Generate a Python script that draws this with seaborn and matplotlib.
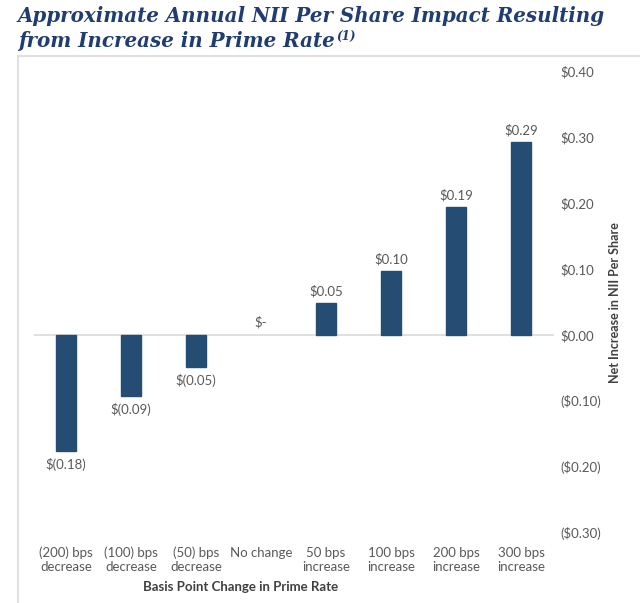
import matplotlib
matplotlib.use("Agg")
import matplotlib.pyplot as plt
import seaborn as sns
import pandas as pd
from matplotlib.patches import Rectangle

categories = ["(200) bps\ndecrease", "(100) bps\ndecrease", "(50) bps\ndecrease", "No change",
              "50 bps\nincrease", "100 bps\nincrease", "200 bps\nincrease", "300 bps\nincrease"]
values = [-0.176, -0.092, -0.048, 0.0, 0.048, 0.097, 0.194, 0.292]
yticks = [-0.30, -0.20, -0.10, 0.00, 0.10, 0.20, 0.30, 0.40]

sns.set_theme(style="white")
plt.rcParams['font.family'] = ['Lato', 'DejaVu Sans']

df = pd.DataFrame({"cat": categories, "val": values})

fig = plt.figure(figsize=(6.4, 6.03), dpi=100)
fig.patch.set_facecolor("white")
ax = fig.add_axes([33.5/640, 70/603, 520/640, 462/603])

sns.barplot(data=df, x="cat", y="val", color="#254D74", width=0.31, ax=ax, saturation=1)
for p in ax.patches:
    if abs(p.get_height()) > 1e-9:
        p.set_edgecolor("#254D74")
    else:
        p.set_linewidth(0)

ax.set_ylim(-0.30, 0.40)
ax.set_xlim(-0.5, len(categories) - 0.5)
ax.set_yticks(yticks)

def fmt(v):
    if abs(v) < 1e-9:
        return "$0.00"
    return f"${v:.2f}" if v > 0 else f"(${-v:.2f})"

ax.set_yticklabels([fmt(v) for v in yticks])
ax.yaxis.tick_right()
ax.tick_params(axis="y", length=0, pad=5, labelsize=9.5, labelcolor="#595959")
ax.tick_params(axis="x", length=0, pad=10, labelsize=9.5, labelcolor="#595959")
for s in ax.spines.values():
    s.set_visible(False)
ax.axhline(0, color="#D9D9D9", lw=1.2, zorder=0)
ax.set_xlabel("")
ax.set_ylabel("")

for i, v in enumerate(values):
    if abs(v) < 1e-9:
        ax.annotate("$-", (i, 0), xytext=(0, 5), textcoords="offset points",
                    ha="center", va="bottom", fontsize=9.5, color="#595959")
    elif v > 0:
        ax.annotate(f"${v:.2f}", (i, v), xytext=(0, 4), textcoords="offset points",
                    ha="center", va="bottom", fontsize=9.5, color="#595959")
    else:
        ax.annotate(f"$({-v:.2f})", (i, v), xytext=(0, -5), textcoords="offset points",
                    ha="center", va="top", fontsize=9.5, color="#595959")

fig.text(241/640, 1 - 587/603, "Basis Point Change in Prime Rate", ha="center", va="center",
         fontsize=9.5, fontweight="bold", color="#404040")
fig.text(615/640, 1 - 303/603, "Net Increase in NII Per Share", ha="center", va="center",
         rotation=90, fontsize=9, fontweight="bold", color="#404040")

fig.add_artist(Rectangle((18/640, -0.05), 1.0, 1 - 56/603 + 0.05, transform=fig.transFigure,
                         fill=False, edgecolor="#E0E0E0", lw=1.5))

title_kw = dict(ha="left", fontweight="bold", fontstyle="italic",
                family="DejaVu Serif", color="#1F3C73")
t1 = fig.text(18/640, 1 - 16/603, "Approximate Annual NII Per Share Impact Resulting",
              va="center", fontsize=16, **title_kw)
renderer = fig.canvas.get_renderer()
w = t1.get_window_extent(renderer).width
fs = 16 * 587 / w
t1.set_fontsize(fs)
t2 = fig.text(18/640, 1 - 41/603, "from Increase in Prime Rate",
              va="center", fontsize=fs, **title_kw)
w2 = t2.get_window_extent(renderer)
fig.text((w2.x1 + 2) / 640, 1 - 36/603, "(1)", va="center", fontsize=fs * 0.6, **title_kw)

fig.savefig("out.png", dpi=100)
